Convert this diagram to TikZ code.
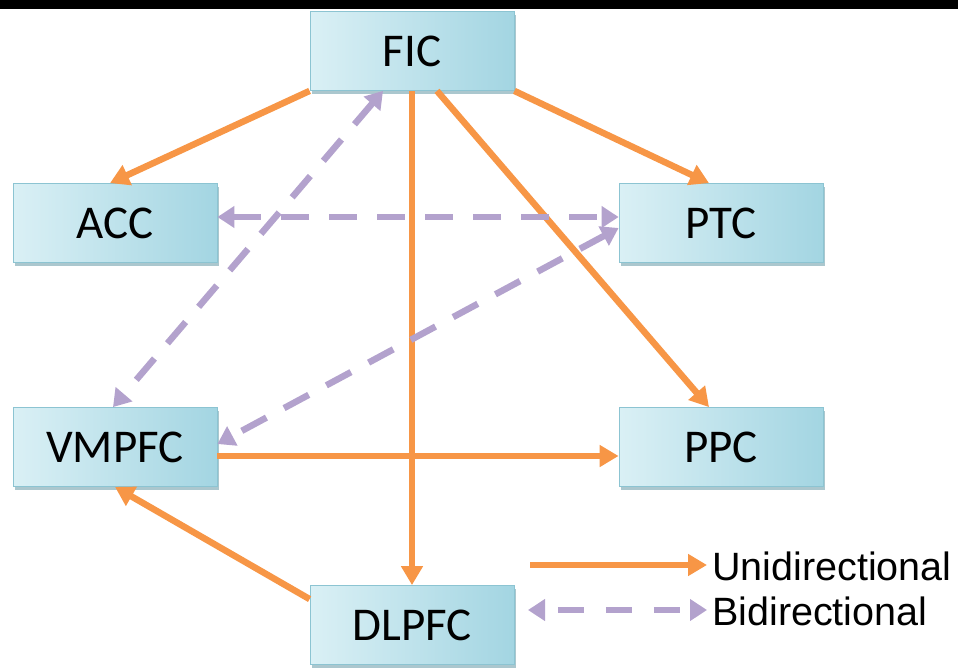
\documentclass[tikz,border=0pt]{standalone}
\usepackage{fontspec}
\setmainfont{Carlito}
\newfontfamily\legfont{Liberation Sans}
\usetikzlibrary{arrows.meta,shadows,calc}
\definecolor{uniorange}{RGB}{247,150,70}
\definecolor{bipurple}{RGB}{179,162,205}
\definecolor{boxlight}{RGB}{218,240,245}
\definecolor{boxdark}{RGB}{163,213,226}
\definecolor{boxedge}{RGB}{140,196,210}
\begin{document}
\begin{tikzpicture}[x=1pt,y=-1pt,
  region/.style={rectangle, minimum width=204pt, minimum height=79pt,
    left color=boxlight, right color=boxdark, draw=boxedge, line width=0.8pt,
    drop shadow={shadow xshift=1.5pt, shadow yshift=-3pt, fill=boxedge!70!gray, opacity=0.7},
    font=\fontsize{47}{50}\selectfont, inner sep=0pt},
  uni/.style={draw=uniorange, line width=6.5pt, -{Triangle[length=19pt,width=21pt]}},
  bi/.style={draw=bipurple, line width=6.5pt, dash pattern=on 28pt off 20pt,
    {Triangle[length=17pt,width=21pt]}-{Triangle[length=17pt,width=21pt]}},
  legtext/.style={anchor=west, inner sep=0pt, font=\legfont\fontsize{39.5}{42}\selectfont}
]
\useasboundingbox (0,0) rectangle (958,667);
\fill[black] (0,0) rectangle (958,9);

\node[region] (FIC) at (412,51) {FIC};
\node[region] (ACC) at (115,223) {ACC};
\node[region] (PTC) at (721,223) {PTC};
\node[region] (VMPFC) at (115,447) {VMPFC};
\node[region] (PPC) at (721,447) {PPC};
\node[region] (DLPFC) at (412,625) {DLPFC};

% unidirectional
\draw[uni] (FIC.south west) -- ([xshift=-5pt]ACC.north);
\draw[uni] (FIC.south east) -- ([xshift=-12pt]PTC.north);
\draw[uni] (FIC.south) -- (DLPFC.north);
\draw[uni] ([xshift=25pt]FIC.south) -- ([xshift=-12pt]PPC.north);
\draw[uni] ([yshift=-9pt]VMPFC.east) -- ([yshift=-9pt]PPC.west);
\draw[uni] ($(DLPFC.north west)+(0,14)$) -- (VMPFC.south);

% bidirectional
\draw[bi] ([yshift=6pt]ACC.east) -- ([yshift=6pt]PTC.west);
\draw[bi] ([xshift=-29pt]FIC.south) -- ([xshift=-2pt]VMPFC.north);
\draw[bi] ([yshift=-5pt]PTC.west) -- ([yshift=3pt]VMPFC.east);

% legend
\coordinate (u1) at (530,565);
\coordinate (u2) at (707,565);
\coordinate (b1) at (528,610);
\coordinate (b2) at (707,610);
\draw[uni] (u1) -- (u2);
\draw[bi, dash pattern=on 26pt off 22pt, dash phase=-14pt] (b1) -- (b2);
\node[legtext] (lu) at (712,566) {Unidirectional};
\node[legtext] (lb) at (712,611) {Bidirectional};
\end{tikzpicture}
\end{document}
